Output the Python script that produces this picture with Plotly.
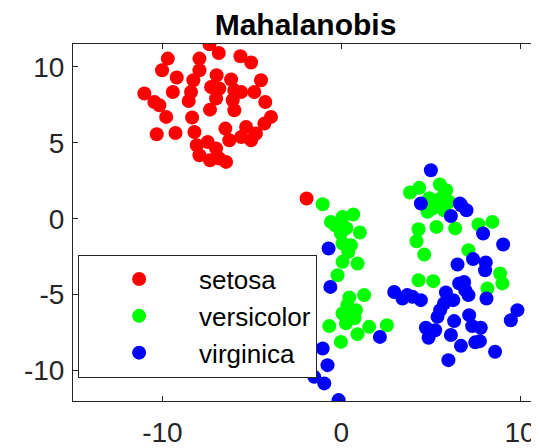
import plotly.graph_objects as go

species = ["setosa", "versicolor", "virginica"]
colors = ["#FF0000", "#00FF00", "#0000FF"]

setosa_x = [-7.37, -6.85, -9.70, -7.93, -5.64, -5.04, -10.02, -7.93, -9.20, -6.97,
            -6.16, -4.49, -8.27, -11.01, -9.42, -8.40, -7.28, -6.82, -5.98, -5.60,
            -4.86, -10.45, -10.17, -8.53, -7.00, -6.07, -4.25, -7.34, -5.98, -9.79,
            -8.34, -3.93, -4.30, -6.48, -5.32, -10.32, -9.27, -8.21, -4.77, -6.26,
            -5.60, -5.04, -8.08, -7.47, -7.00, -7.93, -6.82, -6.44, -7.34, -1.94]
setosa_y = [11.48, 10.91, 10.54, 10.54, 10.69, 10.28, 9.77, 9.77, 9.29, 9.44,
            9.16, 9.11, 9.11, 8.24, 8.34, 8.34, 8.67, 8.57, 8.45, 8.34,
            8.34, 7.68, 7.47, 7.75, 7.91, 7.80, 7.68, 7.18, 7.14, 6.70,
            6.66, 6.70, 6.26, 5.93, 6.04, 5.56, 5.64, 5.71, 5.61, 5.16,
            5.38, 5.16, 4.84, 5.05, 4.62, 4.18, 3.96, 3.74, 3.85, 1.33]

versicolor_x = [-1.04, -0.58, 0.07, 0.67, 1.04, -0.02, 0.54, 0.07, 0.07, 0.91,
                -0.21, 0.45, 1.28, 0.07, 0.82, 0.26, -0.67, 1.56, 2.55, 0.91,
                -0.02, -0.34, 0.28, 0.39, 0.73, 0.34,
                3.84, 4.36, 5.51, 5.66, 6.03, 5.10, 4.82, 5.32, 6.37, 4.32,
                4.21, 7.67, 8.45, 4.64, 7.11, 4.32, 5.14, 8.88, 9.01, 8.17,
                5.36, 5.75, 4.92, 5.87]
versicolor_y = [0.95, -0.21, 0.12, 0.28, -0.91, -0.97, -1.74, -1.63, -2.84, -2.95,
                -3.72, -5.18, -5.03, -6.24, -6.02, -6.89, -7.07, -7.12, -7.01, -7.60,
                -8.11, -0.43, -0.62, -2.20, -6.55, -5.69,
                1.72, 2.03, 2.25, 1.43, 1.11, 0.67, 0.45, -0.54, -0.64, -0.69,
                -1.48, -0.38, -0.21, -2.36, -2.07, -4.05, -4.11, -3.61, -4.26, -4.59,
                1.22, 0.56, 1.35, 1.88]

virginica_x = [-0.71, -0.61, 2.16, -1.04, -0.77, -1.51, -0.95, -0.15,
               5.01, 4.45, 6.63, 7.00, 6.13, 7.93, 9.05, 6.50, 7.37, 8.08,
               6.59, 6.87, 2.96, 3.42, 3.98, 4.45, 5.85, 5.75, 7.11, 8.12,
               5.38, 7.15, 6.31, 4.73, 7.80, 9.48, 9.85, 4.88, 6.13, 7.49,
               7.75, 6.69, 8.60, 5.99,
               6.93, 5.53, 7.32, 6.26, 3.69, 5.25, 8.04, 6.70]
virginica_y = [-1.96, -4.49, -7.78, -8.54, -9.64, -10.41, -10.84, -11.94,
               3.19, 1.00, 1.00, 0.56, 0.18, -0.97, -1.70, -3.01, -2.66, -2.88,
               -4.26, -4.16, -4.82, -5.25, -5.14, -5.36, -4.86, -5.58, -5.03, -5.25,
               -6.46, -6.35, -6.74, -7.18, -7.18, -6.68, -6.02, -7.84, -7.66, -8.14,
               -8.06, -8.37, -8.76, -9.31,
               -4.70, -6.02, -7.07, -5.36, -5.03, -7.34, -3.39, 0.89]

x_ticks = [-10, 0, 10]
x_ticklabels = ["-10", "0", "10"]
y_ticks = [-10, -5, 0, 5, 10]
y_ticklabels = ["-10", "-5", "0", "5", "10"]
title_text = "Mahalanobis"

series = [(setosa_x, setosa_y), (versicolor_x, versicolor_y), (virginica_x, virginica_y)]

FONT = "Liberation Sans, Arial, Helvetica, sans-serif"
AX = "#262626"

fig = go.Figure()
for name, col, (xs, ys) in zip(species, colors, series):
    fig.add_trace(go.Scatter(
        x=xs, y=ys, mode="markers", name=name,
        marker=dict(color=col, size=14, line=dict(width=0)),
    ))

axis_common = dict(
    showgrid=False, zeroline=False, showline=True, linecolor=AX, linewidth=1,
    mirror="ticks", ticks="inside", ticklen=5, tickwidth=1, tickcolor=AX,
    tickfont=dict(family=FONT, size=28, color=AX), automargin=False,
)

# page body has an 8px default margin; the figure is sized to fit inside it
fig.update_layout(
    width=531, height=440,
    margin=dict(l=65, r=1, t=36, b=47),
    paper_bgcolor="white", plot_bgcolor="white",
    title=dict(text="<b>" + title_text + "</b>", x=0.5, xref="paper",
               y=0.962, yref="container", yanchor="middle",
               font=dict(family=FONT, size=30, color="black")),
    xaxis=dict(range=[-15, 11], tickvals=x_ticks, ticktext=x_ticklabels,
               ticklabelstandoff=6, **axis_common),
    yaxis=dict(range=[-12, 11.5], tickvals=y_ticks, ticktext=y_ticklabels,
               ticklabelstandoff=2, **axis_common),
    legend=dict(x=0.011, y=0.41, xanchor="left", yanchor="top",
                bgcolor="white", bordercolor=AX, borderwidth=1,
                font=dict(family=FONT, size=26, color="black"),
                itemwidth=110, tracegroupgap=0),
    showlegend=True,
)

fig.write_html("out.html")
